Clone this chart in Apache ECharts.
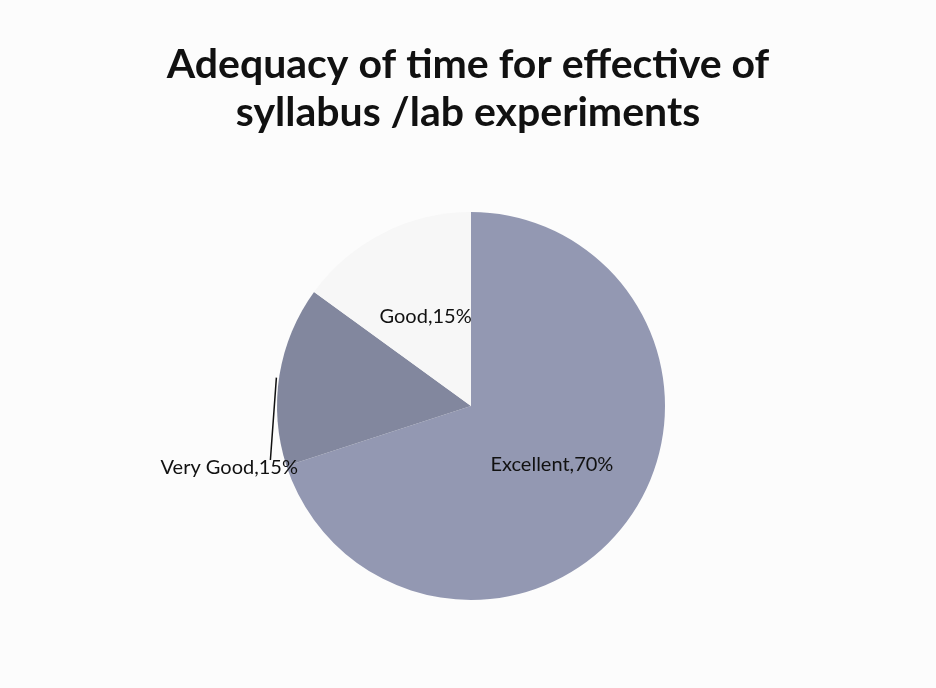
<!DOCTYPE html>
<html>
<head>
<meta charset="utf-8">
<script src="https://cdn.jsdelivr.net/npm/echarts@6/dist/echarts.min.js"></script>
<style>html,body{margin:0;padding:0;background:#fcfcfc}#c{width:936px;height:688px}</style>
</head>
<body>
<div id="c"></div>
<script>
const titleText = 'Adequacy of time for effective of\nsyllabus /lab experiments';
const categories = ['Excellent', 'Very Good', 'Good'];
const percents = [70, 15, 15];
const colors = ['#9398b2', '#82879e', '#f7f7f7'];

const chart = echarts.init(document.getElementById('c'));
chart.setOption({
  backgroundColor: '#fcfcfc',
  animation: false,
  title: {
    text: titleText,
    left: 'center',
    top: 36,
    textStyle: { fontFamily: 'Lato', fontWeight: 'bold', fontSize: 41, lineHeight: 48, color: '#111' }
  },
  series: [{
    type: 'pie',
    center: [471, 406],
    radius: [0, 194],
    startAngle: 90,
    clockwise: true,
    avoidLabelOverlap: false,
    data: categories.map((c, i) => ({
      name: c,
      value: percents[i],
      itemStyle: { color: colors[i] },
      label: i === 1 ? { position: 'outside' } : { position: 'inside' },
      labelLine: { show: i === 1 }
    })),
    label: {
      formatter: p => p.name + ',' + p.value + '%',
      fontFamily: 'Lato',
      fontSize: 20,
      color: '#111'
    },
    labelLine: { lineStyle: { color: '#111', width: 1.5 }, length: 10, length2: 0 },
    labelLayout: function (params) {
      if (params.dataIndex === 1 && params.labelLinePoints) {
        const p0 = params.labelLinePoints[0];
        const ly = 468;
        const top = [p0[0] - 3, p0[1] + 2];
        const bottom = [p0[0] - 9, ly - 8];
        return {
          x: 298, y: ly, align: 'right', verticalAlign: 'middle',
          labelLinePoints: [top, [(top[0] + bottom[0]) / 2, (top[1] + bottom[1]) / 2], bottom]
        };
      }
      return {};
    }
  }]
});
</script>
</body>
</html>
